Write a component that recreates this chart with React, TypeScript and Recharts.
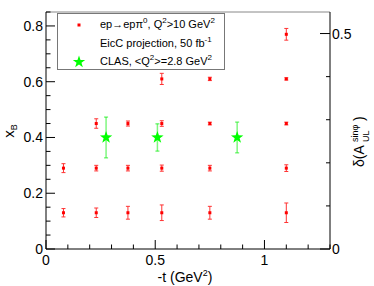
import { ScatterChart, Scatter, XAxis, YAxis, ErrorBar, ReferenceLine, Legend, Label } from "recharts";

// EicC projection points: -t, xB, error
const eicT = [0.08, 0.23, 0.375, 0.53, 0.75, 1.1, 0.08, 0.23, 0.375, 0.53, 0.75, 1.1, 0.23, 0.375, 0.53, 0.75, 1.1, 0.53, 0.75, 1.1, 1.1];
const eicXB = [0.13, 0.13, 0.13, 0.13, 0.13, 0.13, 0.29, 0.29, 0.29, 0.29, 0.29, 0.29, 0.45, 0.45, 0.45, 0.45, 0.45, 0.61, 0.61, 0.61, 0.77];
const eicErr = [0.015, 0.017, 0.023, 0.028, 0.023, 0.035, 0.016, 0.01, 0.01, 0.011, 0.01, 0.012, 0.017, 0.009, 0.01, 0.005, 0.005, 0.02, 0.006, 0.004, 0.021];

// CLAS points
const clasT = [0.275, 0.51, 0.875];
const clasXB = [0.4, 0.4, 0.4];
const clasErr = [0.073, 0.049, 0.055];

const xTicks = [0, 0.1, 0.2, 0.3, 0.4, 0.5, 0.6, 0.7, 0.8, 0.9, 1, 1.1, 1.2, 1.3];
const leftTicks = [0, 0.05, 0.1, 0.15, 0.2, 0.25, 0.3, 0.35, 0.4, 0.45, 0.5, 0.55, 0.6, 0.65, 0.7, 0.75, 0.8, 0.85];
const rightTicks = [0, 0.1, 0.2, 0.3, 0.4, 0.5];

const eicData = eicT.map((t, i) => ({ t, xb: eicXB[i], err: eicErr[i] }));
const clasData = clasT.map((t, i) => ({ t, xb: clasXB[i], err: clasErr[i] }));
// keeps the right (asymmetry uncertainty) axis alive, nothing drawn
const rightAnchor = [{ t: 0, d: 0 }];

const font = "'Liberation Sans', Arial, sans-serif";

const isMultiple = (v: number, step: number) => Math.abs(v / step - Math.round(v / step)) < 1e-6;
const fmt = (v: number) => (v === 0 ? "0" : v === 1 ? "1" : v.toFixed(1));

const BottomTick = (props: any) => {
  const { x, y, payload } = props;
  const v = payload.value;
  const major = isMultiple(v, 0.5);
  return (
    <g>
      <line x1={x} x2={x} y1={y} y2={y - (major ? 9 : 4.5)} stroke="#000" />
      {major && (
        <text x={x} y={y + 16} textAnchor="middle" fontSize={14} fontFamily={font} fill="#000">
          {fmt(v)}
        </text>
      )}
    </g>
  );
};

const LeftTick = (props: any) => {
  const { x, y, payload } = props;
  const v = payload.value;
  const major = isMultiple(v, 0.2);
  return (
    <g>
      <line x1={x} x2={x + (major ? 9 : 4.5)} y1={y} y2={y} stroke="#000" />
      {major && (
        <text x={x - 3} y={y + 5} textAnchor="end" fontSize={14} fontFamily={font} fill="#000">
          {fmt(v)}
        </text>
      )}
    </g>
  );
};

const RightTick = (props: any) => {
  const { x, y, payload } = props;
  const v = payload.value;
  const major = isMultiple(v, 0.5);
  return (
    <g>
      <line x1={x} x2={x - (major ? 10 : 4)} y1={y} y2={y} stroke="#000" />
      {major && (
        <text x={x + 2} y={y + 5} textAnchor="start" fontSize={14} fontFamily={font} fill="#000">
          {fmt(v)}
        </text>
      )}
    </g>
  );
};

const starPoints = (cx: number, cy: number, R: number, r: number) => {
  const pts: string[] = [];
  for (let i = 0; i < 10; i++) {
    const a = -Math.PI / 2 + (i * Math.PI) / 5;
    const rad = i % 2 === 0 ? R : r;
    pts.push(`${cx + rad * Math.cos(a)},${cy + rad * Math.sin(a)}`);
  }
  return pts.join(" ");
};

const RedDot = (props: any) => <rect x={props.cx - 1.5} y={props.cy - 1.5} width={3} height={3} fill="#ff0000" />;
const GreenStar = (props: any) => <polygon points={starPoints(props.cx, props.cy, 6.5, 2.6)} fill="#00ff00" />;
const NoShape = () => <g />;

const sup = { fontSize: 8, verticalAlign: "super" as const, lineHeight: 0 };

const LegendBox = () => (
  <div
    style={{
      width: 168,
      height: 57,
      border: "1px solid #777",
      background: "#fff",
      fontFamily: font,
      fontSize: 11,
      color: "#000",
      boxSizing: "border-box",
      position: "relative",
    }}
  >
    <svg width={40} height={57} style={{ position: "absolute", left: 0, top: 0 }}>
      <rect x={19.5} y={9.5} width={3} height={3} fill="#ff0000" />
      <polygon points={starPoints(21, 48, 6.5, 2.6)} fill="#00ff00" />
    </svg>
    <div style={{ position: "absolute", left: 42, top: 4, whiteSpace: "nowrap" }}>
      ep→epπ<span style={sup}>0</span>, Q<span style={sup}>2</span>&gt;10 GeV<span style={sup}>2</span>
    </div>
    <div style={{ position: "absolute", left: 42, top: 23, whiteSpace: "nowrap" }}>
      EicC projection, 50 fb<span style={sup}>-1</span>
    </div>
    <div style={{ position: "absolute", left: 42, top: 41, whiteSpace: "nowrap" }}>
      CLAS, &lt;Q<span style={sup}>2</span>&gt;=2.8 GeV<span style={sup}>2</span>
    </div>
  </div>
);

const LeftTitle = () => (
  <text transform="translate(13.5,131) rotate(-90)" textAnchor="middle" fontSize={15} fontFamily={font} fill="#000">
    x<tspan fontSize={9} dy={3}>B</tspan>
  </text>
);

const RightTitle = () => (
  <g transform="translate(364,135) rotate(-90)" fontFamily={font} fill="#000">
    <text x={-32} y={0} fontSize={14}>δ(A</text>
    <text x={-7} y={-6} fontSize={9}>sinφ</text>
    <text x={-7} y={5} fontSize={9}>UL</text>
    <text x={14} y={0} fontSize={14}>)</text>
  </g>
);

const BottomTitle = () => (
  <text x={185} y={282} textAnchor="middle" fontSize={14} fontFamily={font} fill="#000">
    -t (GeV<tspan fontSize={9} dy={-6}>2</tspan>
    <tspan dy={6}>)</tspan>
  </text>
);

export default function App() {
  return (
    <div style={{ position: "absolute", left: 0, top: 0, width: 374, height: 286, background: "#fff" }}>
      <ScatterChart width={374} height={286} margin={{ top: 12, right: 0, bottom: 0, left: 0 }}>
        <XAxis
          dataKey="t"
          type="number"
          domain={[0, 1.3]}
          ticks={xTicks}
          interval={0}
          height={37}
          tickSize={0}
          tickMargin={0}
          tickLine={false}
          tick={<BottomTick />}
          axisLine={{ stroke: "#000" }}
        >
          <Label content={<BottomTitle />} />
        </XAxis>
        <YAxis
          yAxisId="left"
          dataKey="xb"
          type="number"
          domain={[0, 0.85]}
          ticks={leftTicks}
          interval={0}
          width={46}
          tickSize={0}
          tickMargin={0}
          tickLine={false}
          tick={<LeftTick />}
          axisLine={{ stroke: "#000" }}
        >
          <Label content={<LeftTitle />} />
        </YAxis>
        <YAxis
          yAxisId="right"
          dataKey="d"
          orientation="right"
          type="number"
          domain={[0, 0.55]}
          ticks={rightTicks}
          interval={0}
          width={44}
          tickSize={0}
          tickMargin={0}
          tickLine={false}
          tick={<RightTick />}
          axisLine={{ stroke: "#000" }}
        >
          <Label content={<RightTitle />} />
        </YAxis>
        <ReferenceLine yAxisId="left" y={0.85} stroke="#888" />
        <Legend
          layout="horizontal"
          verticalAlign="middle"
          content={<LegendBox />}
          wrapperStyle={{ position: "absolute", left: 57, top: 13, width: 168 }}
        />
        <Scatter name="anchor" data={rightAnchor} yAxisId="right" shape={<NoShape />} legendType="none" isAnimationActive={false} />
        <Scatter name="EicC" data={eicData} yAxisId="left" shape={<RedDot />} isAnimationActive={false}>
          <ErrorBar dataKey="err" direction="y" width={2} stroke="#ff3333" strokeWidth={1} isAnimationActive={false} />
        </Scatter>
        <Scatter name="CLAS" data={clasData} yAxisId="left" shape={<GreenStar />} isAnimationActive={false}>
          <ErrorBar dataKey="err" direction="y" width={2} stroke="#00ee00" strokeOpacity={0.5} strokeWidth={1.5} isAnimationActive={false} />
        </Scatter>
      </ScatterChart>
    </div>
  );
}
